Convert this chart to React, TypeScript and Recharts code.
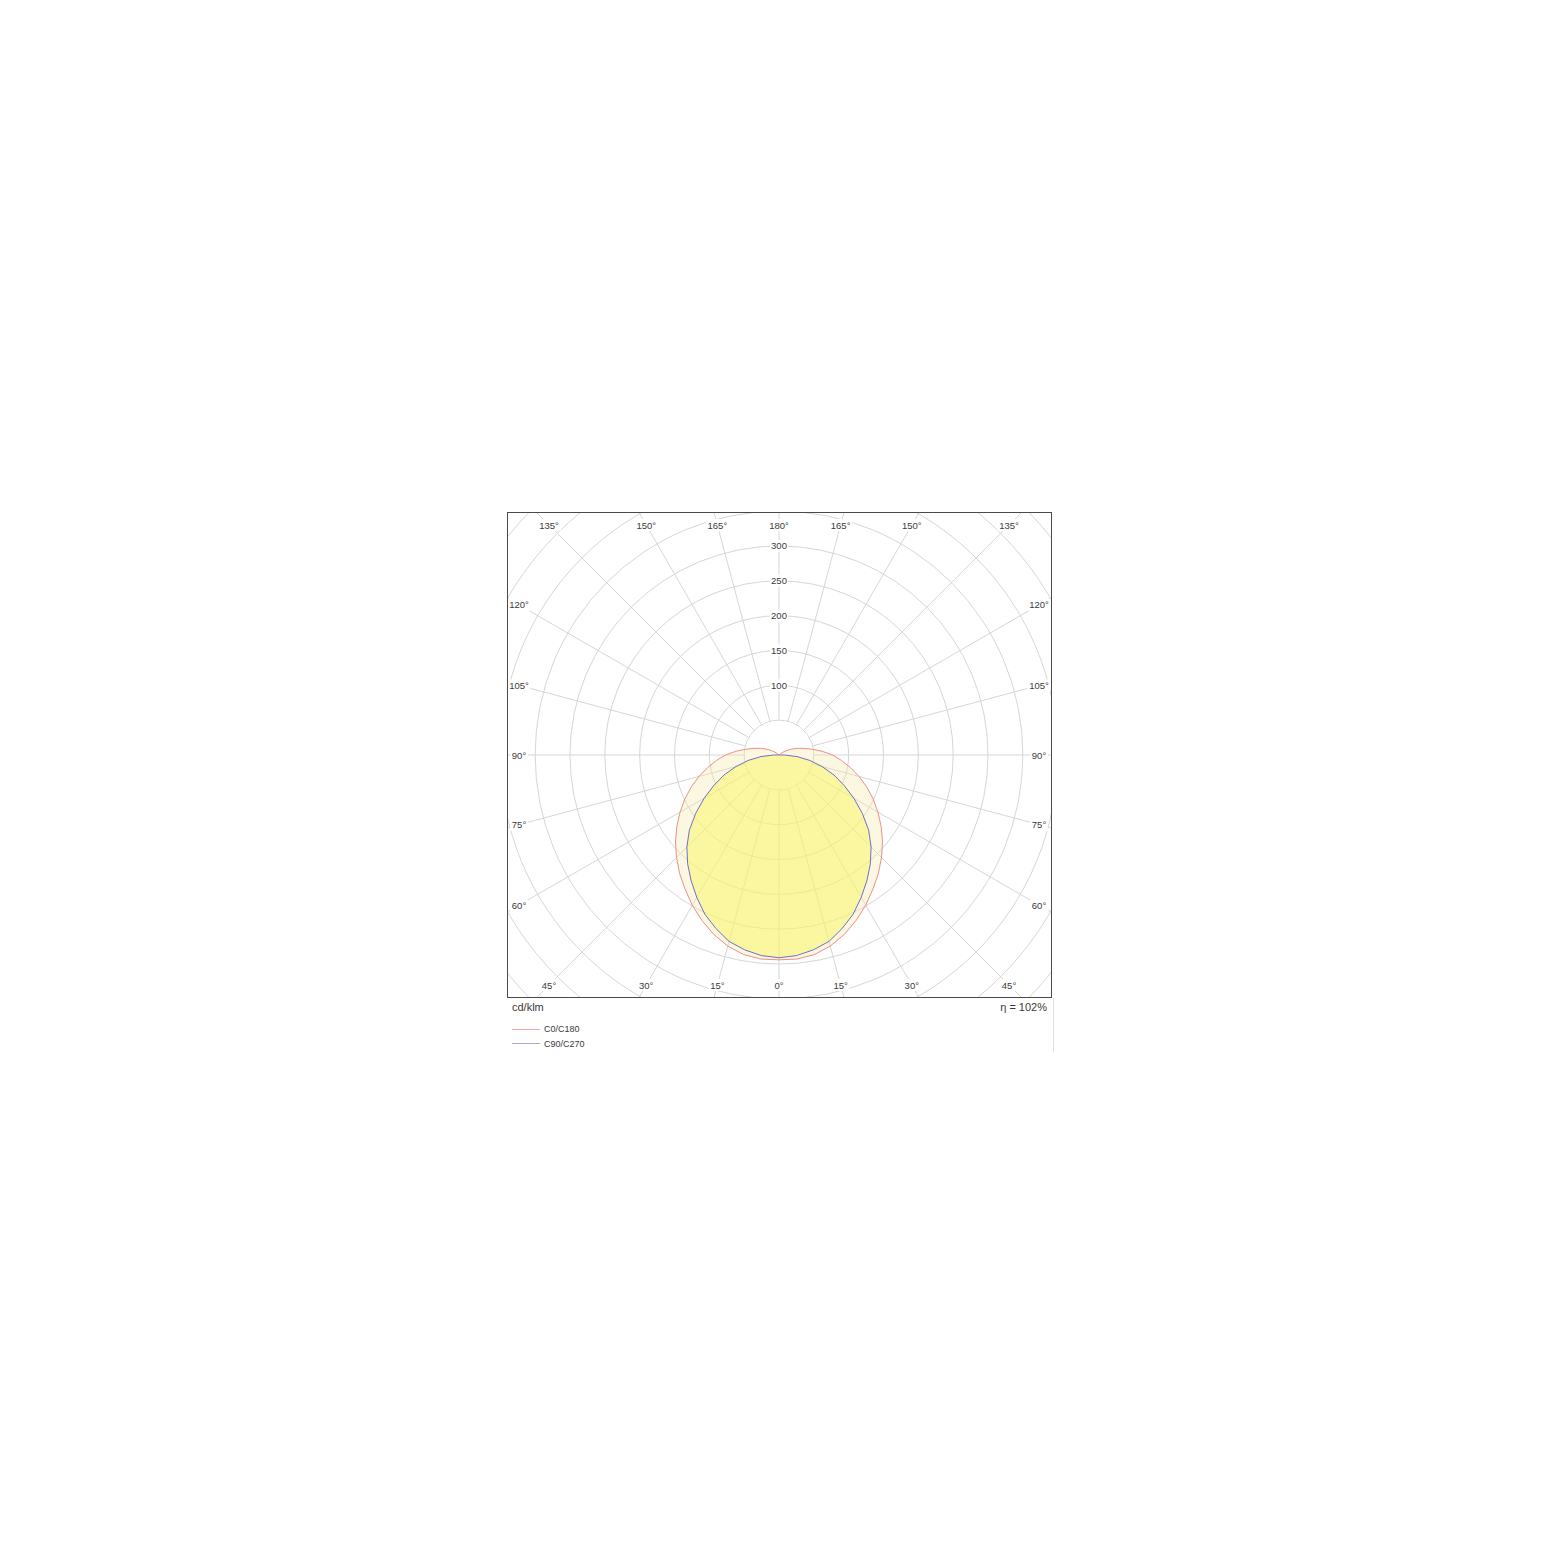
import { RadarChart, Radar, PolarGrid, PolarAngleAxis, PolarRadiusAxis } from 'recharts';

// gamma angles (deg from nadir) and luminous intensity in cd/klm, one half-plane each
const gammaAngles = [
  0, 5, 10, 15, 20, 25, 30, 35, 40, 45, 50, 55, 60, 65, 70, 75, 80, 85, 90,
  95, 100, 105, 110, 115, 120, 125, 130, 135, 140, 145, 150, 155, 160, 165, 170, 175, 180,
];
const c0c180 = [
  294, 294, 291, 284, 274, 262, 249, 235, 222, 208, 194, 179, 164, 149, 134, 119, 104, 90, 77,
  62, 48, 37, 28, 20, 13, 7, 3, 1, 0, 0, 0, 0, 0, 0, 0, 0, 0,
];
const c90c270 = [
  291, 289, 284, 277, 265, 252, 236, 220, 204, 187, 168, 146, 124, 103, 84, 64, 45, 26, 8,
  1, 0, 0, 0, 0, 0, 0, 0, 0, 0, 0, 0, 0, 0, 0, 0, 0, 0,
];

const angleTicks = [0, 15, 30, 45, 60, 75, 90, 105, 120, 135, 150, 165, 180, 195, 210, 225, 240, 255, 270, 285, 300, 315, 330, 345];
const radiusTicks = [50, 100, 150, 200, 250, 300, 350, 400, 450, 500];
const labelledRadii = [100, 150, 200, 250, 300];

const seriesNames = ['C0/C180', 'C90/C270'];
const efficiency = 'η = 102%';
const unitLabel = 'cd/klm';

// full 360° table: mirror the half-plane values onto the opposite side
const data = [] as { angle: number; c0: number; c90: number }[];
for (let a = 0; a < 360; a += 5) {
  const g = a <= 180 ? a : 360 - a;
  const i = gammaAngles.indexOf(g);
  data.push({ angle: a, c0: c0c180[i], c90: c90c270[i] });
}

const W = 543;
const H = 484;
const CX = 271;
const CY = 242;
const PX_PER_UNIT = 0.6967;
const R_MAX = 500;
const OUTER = R_MAX * PX_PER_UNIT;

const RED = '#ec8f88';
const BLUE = '#6f6fcc';
const GRID = '#d6d6d6';
const TEXT = '#3a3a3a';
const FONT = '"Liberation Sans", Arial, sans-serif';

function AngleTick(props: any) {
  const v = props.payload.value as number;
  const label = `${v <= 180 ? v : 360 - v}°`;
  // recharts polar angle for this data angle, then push the label to the inner frame
  const a = ((-90 + v) * Math.PI) / 180;
  const dx = Math.cos(a);
  const dy = -Math.sin(a);
  const t = Math.min(
    Math.abs(dx) > 1e-6 ? 260 / Math.abs(dx) : Infinity,
    Math.abs(dy) > 1e-6 ? 230 / Math.abs(dy) : Infinity,
  );
  const x = CX + t * dx;
  const y = CY + t * dy;
  const w = label.length * 5.3 + 2;
  return (
    <g>
      <rect x={x - w / 2} y={y - 6} width={w} height={12} fill="#fff" />
      <text x={x} y={y} textAnchor="middle" dominantBaseline="central" fontSize={9.5} fontFamily={FONT} fill={TEXT}>
        {label}
      </text>
    </g>
  );
}

function RadiusTick(props: any) {
  const v = props.payload.value as number;
  if (!labelledRadii.includes(v)) return <g />;
  const { x, y } = props;
  return (
    <g>
      <rect x={x - 9} y={y - 6} width={18} height={12} fill="#fff" />
      <text x={x} y={y} textAnchor="middle" dominantBaseline="central" fontSize={9.5} fontFamily={FONT} fill={TEXT}>
        {v}
      </text>
    </g>
  );
}

export default function App() {
  return (
    <div style={{ position: 'absolute', left: 0, top: 0, width: 1560, height: 1561, background: '#fff' }}>
      {/* bordered plot frame */}
      <div
        style={{
          position: 'absolute',
          left: 507,
          top: 512,
          width: W + 2,
          height: H + 2,
          border: '1px solid #4a4a4a',
          boxSizing: 'border-box',
          overflow: 'hidden',
        }}
      >
        <RadarChart
          width={W}
          height={H}
          data={data}
          cx={CX}
          cy={CY}
          innerRadius={0}
          outerRadius={OUTER}
          startAngle={-90}
          endAngle={270}
          margin={{ top: 0, right: 0, bottom: 0, left: 0 }}
        >
          <PolarGrid gridType="circle" stroke={GRID} strokeWidth={1} />
          {/* spokes start at the first ring */}
          <circle cx={CX} cy={CY} r={50 * PX_PER_UNIT - 0.6} fill="#fff" />
          <Radar
            dataKey="c0"
            name={seriesNames[0]}
            stroke={RED}
            strokeWidth={1}
            fill="#f5e6a0"
            fillOpacity={0.32}
            dot={false}
            isAnimationActive={false}
          />
          <Radar
            dataKey="c90"
            name={seriesNames[1]}
            stroke={BLUE}
            strokeWidth={1}
            fill="#f8f860"
            fillOpacity={0.5}
            dot={false}
            isAnimationActive={false}
          />
          <PolarAngleAxis
            dataKey="angle"
            type="number"
            domain={[0, 360]}
            ticks={angleTicks}
            axisLine={false}
            tickLine={false}
            tick={AngleTick}
          />
          <PolarRadiusAxis
            angle={90}
            type="number"
            domain={[0, R_MAX]}
            ticks={radiusTicks}
            axisLine={false}
            tick={RadiusTick}
          />
        </RadarChart>
      </div>

      {/* faint continuation of the right frame edge */}
      <div style={{ position: 'absolute', left: 1053, top: 998, width: 1, height: 54, background: '#e2e2e2' }} />

      <div style={{ position: 'absolute', left: 512, top: 1001, fontFamily: FONT, fontSize: 11, color: TEXT }}>{unitLabel}</div>
      <div style={{ position: 'absolute', left: 980, width: 67, textAlign: 'right', top: 1001, fontFamily: FONT, fontSize: 11, color: TEXT }}>
        {efficiency}
      </div>

      {seriesNames.map((name, i) => (
        <div key={name} style={{ position: 'absolute', left: 512, top: 1023 + i * 14.5, height: 12, display: 'flex', alignItems: 'center' }}>
          <div style={{ width: 28, height: 1, background: i === 0 ? '#f2a8a8' : '#a8a8e6' }} />
          <span style={{ marginLeft: 4, fontFamily: FONT, fontSize: 9, color: TEXT }}>{name}</span>
        </div>
      ))}
    </div>
  );
}
